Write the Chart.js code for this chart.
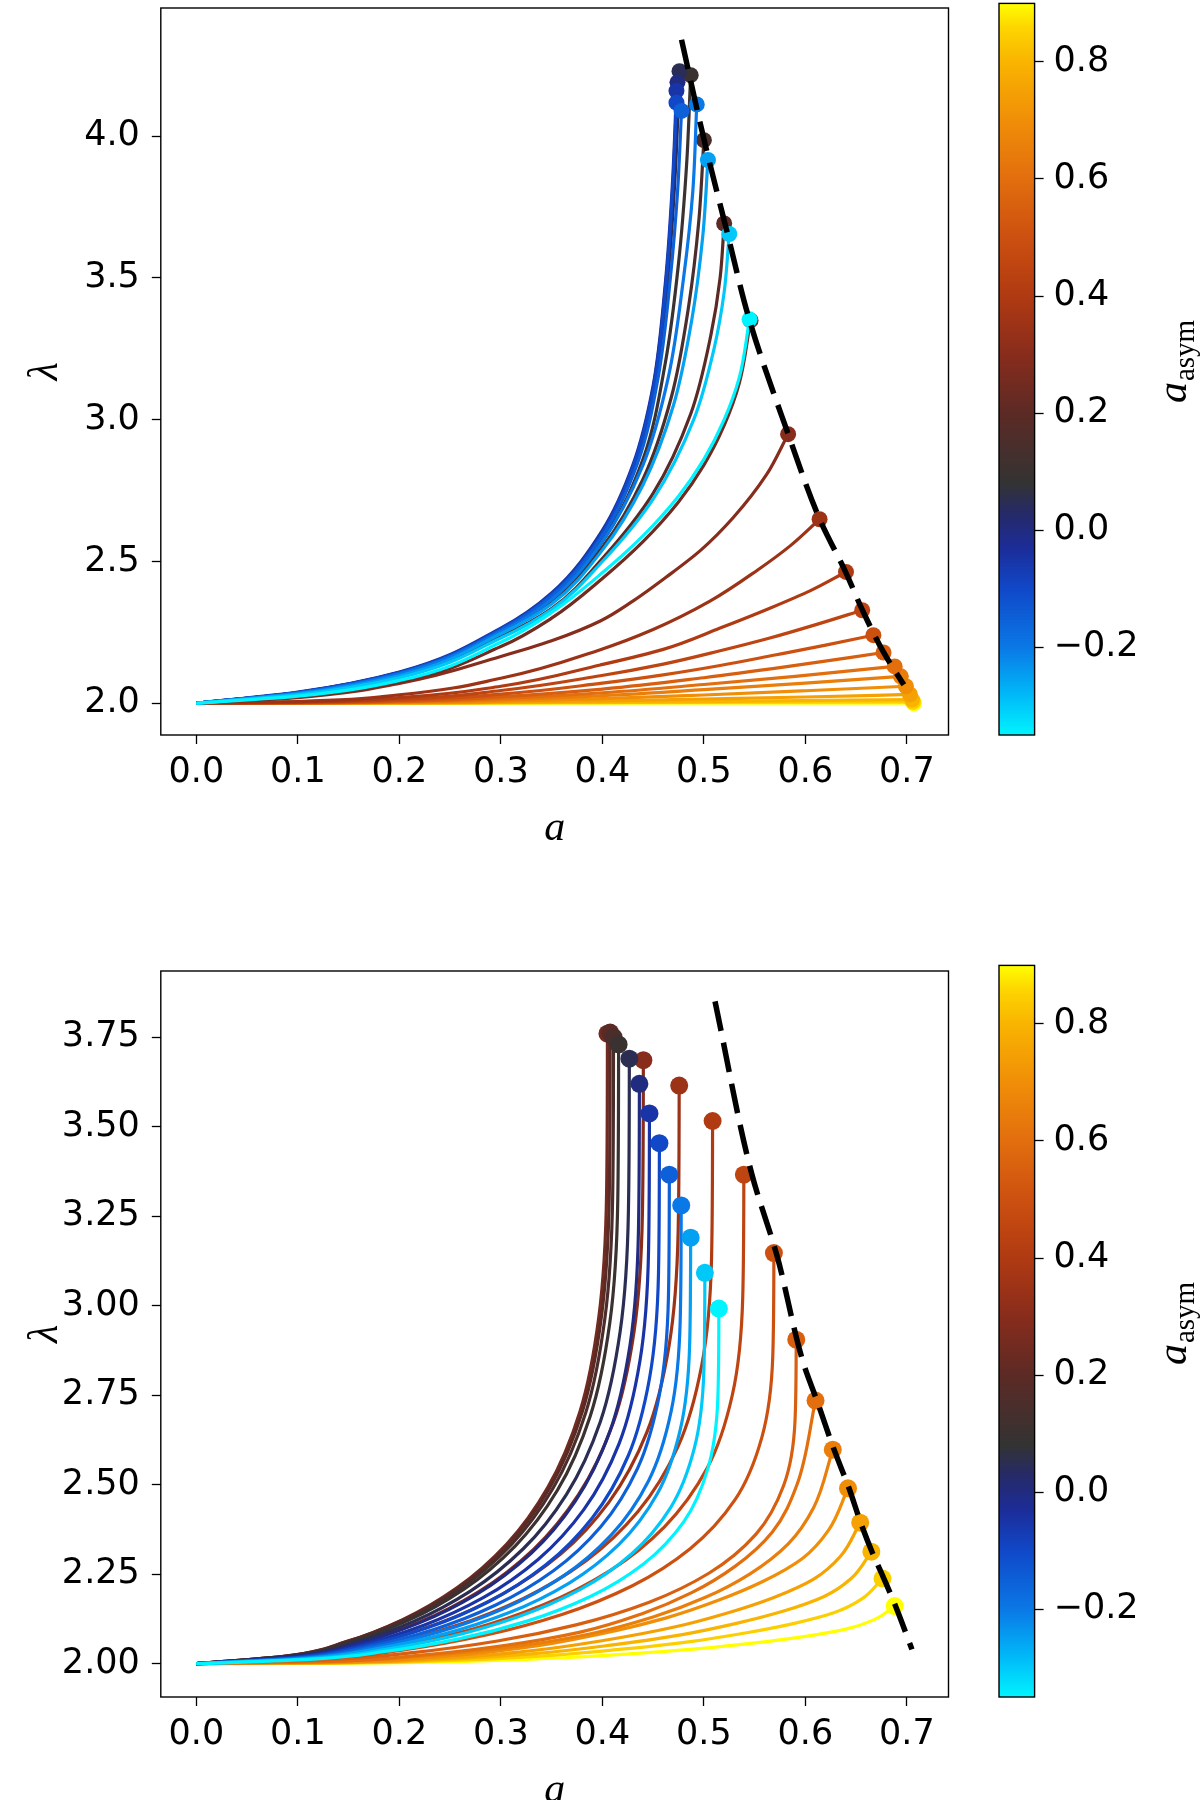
<!DOCTYPE html>
<html>
<head>
<meta charset="utf-8">
<script src="https://cdn.jsdelivr.net/npm/chart.js@4.4.1/dist/chart.umd.min.js"></script>
<style>
  html, body { margin: 0; padding: 0; background: #fff; overflow: hidden; width: 1200px; height: 1800px; }
  .box { position: absolute; }
</style>
</head>
<body>
<div class="box" style="left:0;top:0;width:960px;height:850px"><canvas id="topChart"></canvas></div>
<div class="box" style="left:990px;top:0;width:210px;height:850px"><canvas id="topBar"></canvas></div>
<div class="box" style="left:0;top:962px;width:960px;height:850px"><canvas id="bottomChart"></canvas></div>
<div class="box" style="left:990px;top:962px;width:210px;height:850px"><canvas id="bottomBar"></canvas></div>
<script>
// tick labels
const xTicks = [0, 0.1, 0.2, 0.3, 0.4, 0.5, 0.6, 0.7];
const topYTicks = [2.0, 2.5, 3.0, 3.5, 4.0];
const bottomYTicks = [2.0, 2.25, 2.5, 2.75, 3.0, 3.25, 3.5, 3.75];
const cbarTicks = [-0.2, 0.0, 0.2, 0.4, 0.6, 0.8];
const cbarMin = -0.35, cbarMax = 0.9;

// colour map of a_asym
const cmapStops = [-0.35, -0.28, -0.2, -0.1, -0.03, 0.03, 0.08, 0.2, 0.3, 0.4, 0.5, 0.6, 0.7, 0.8, 0.86, 0.9];
const cmapColors = ['#00f4ff', '#00b8f8', '#0a78e6', '#1048c8', '#1c2c98', '#262a66', '#333333', '#5c2a25',
                    '#882c1c', '#b03a12', '#cc5010', '#e26e0e', '#f08e08', '#f9b400', '#fdd600', '#ffff00'];

// top panel: a_asym of each curve, curve points [a, lambda]
const topAsym = [-0.35, -0.3, -0.25, -0.2, -0.15, -0.1, -0.05, 0.0, 0.05, 0.1, 0.15, 0.2, 0.25,
                 0.3, 0.35, 0.4, 0.45, 0.5, 0.55, 0.6, 0.65, 0.7, 0.75, 0.8, 0.85, 0.9];
const topCurves = [
  [[0,2],[0.1,2.025],[0.2,2.08],[0.3,2.215],[0.35,2.32],[0.4,2.46],[0.44,2.59],[0.475,2.73],[0.5,2.86],[0.52,3.0],[0.535,3.15],[0.545,3.354]],
  [[0,2],[0.1,2.03],[0.2,2.09],[0.3,2.23],[0.35,2.33],[0.4,2.5],[0.45,2.72],[0.49,3.0],[0.51,3.25],[0.52,3.45],[0.525,3.655]],
  [[0,2],[0.1,2.033],[0.2,2.097],[0.3,2.245],[0.35,2.35],[0.4,2.54],[0.44,2.77],[0.47,3.05],[0.488,3.35],[0.499,3.65],[0.504,3.916]],
  [[0,2],[0.1,2.035],[0.2,2.103],[0.3,2.252],[0.35,2.366],[0.4,2.57],[0.44,2.84],[0.465,3.15],[0.48,3.5],[0.489,3.8],[0.493,4.112]],
  [[0,2],[0.1,2.037],[0.2,2.106],[0.3,2.258],[0.35,2.378],[0.4,2.59],[0.435,2.85],[0.455,3.15],[0.467,3.5],[0.474,3.8],[0.478,4.089]],
  [[0,2],[0.1,2.038],[0.2,2.108],[0.3,2.262],[0.35,2.384],[0.4,2.6],[0.43,2.83],[0.45,3.1],[0.462,3.45],[0.469,3.8],[0.473,4.118]],
  [[0,2],[0.1,2.039],[0.2,2.11],[0.3,2.265],[0.35,2.389],[0.4,2.61],[0.43,2.84],[0.45,3.12],[0.462,3.48],[0.469,3.83],[0.473,4.16]],
  [[0,2],[0.1,2.038],[0.2,2.108],[0.3,2.26],[0.35,2.381],[0.4,2.595],[0.43,2.83],[0.45,3.11],[0.463,3.5],[0.47,3.85],[0.474,4.19]],
  [[0,2],[0.1,2.037],[0.2,2.106],[0.3,2.256],[0.35,2.374],[0.4,2.585],[0.432,2.83],[0.452,3.12],[0.465,3.52],[0.472,3.88],[0.476,4.229]],
  [[0,2],[0.1,2.035],[0.2,2.103],[0.3,2.25],[0.35,2.365],[0.4,2.57],[0.44,2.86],[0.462,3.2],[0.475,3.55],[0.483,3.9],[0.487,4.215]],
  [[0,2],[0.1,2.034],[0.2,2.1],[0.3,2.25],[0.35,2.358],[0.4,2.55],[0.44,2.79],[0.468,3.08],[0.485,3.4],[0.495,3.7],[0.5,3.986]],
  [[0,2],[0.1,2.03],[0.2,2.092],[0.3,2.235],[0.35,2.334],[0.4,2.51],[0.45,2.74],[0.487,3.02],[0.507,3.3],[0.516,3.5],[0.52,3.692]],
  [[0,2],[0.1,2.022],[0.2,2.075],[0.3,2.2],[0.35,2.3],[0.4,2.44],[0.44,2.57],[0.475,2.71],[0.5,2.84],[0.52,2.98],[0.535,3.13],[0.546,3.35]],
  [[0,2],[0.1,2.02],[0.2,2.07],[0.3,2.165],[0.35,2.22],[0.398,2.29],[0.43,2.36],[0.463,2.445],[0.497,2.54],[0.529,2.655],[0.5617,2.806],[0.583,2.949]],
  [[0,2],[0.1,2.006],[0.2,2.03],[0.3,2.088],[0.398,2.189],[0.45,2.26],[0.506,2.36],[0.553,2.47],[0.585,2.555],[0.614,2.649]],
  [[0,2],[0.1,2.004],[0.2,2.02],[0.3,2.06],[0.398,2.135],[0.46,2.19],[0.516,2.265],[0.565,2.335],[0.605,2.397],[0.64,2.463]],
  [[0,2],[0.1,2.003],[0.2,2.014],[0.3,2.045],[0.398,2.097],[0.46,2.138],[0.516,2.185],[0.565,2.23],[0.612,2.279],[0.656,2.328]],
  [[0,2],[0.1,2.002],[0.2,2.01],[0.3,2.032],[0.398,2.07],[0.46,2.1],[0.516,2.133],[0.57,2.17],[0.62,2.205],[0.667,2.24]],
  [[0,2],[0.1,2.0015],[0.2,2.007],[0.3,2.023],[0.4,2.05],[0.5,2.09],[0.58,2.128],[0.677,2.179]],
  [[0,2],[0.1,2.001],[0.2,2.005],[0.3,2.017],[0.4,2.037],[0.5,2.066],[0.59,2.095],[0.688,2.13]],
  [[0,2],[0.1,2.001],[0.2,2.004],[0.3,2.012],[0.4,2.027],[0.5,2.048],[0.6,2.071],[0.694,2.095]],
  [[0,2],[0.2,2.002],[0.3,2.007],[0.4,2.016],[0.5,2.029],[0.6,2.044],[0.699,2.06]],
  [[0,2],[0.2,2.001],[0.3,2.004],[0.4,2.008],[0.5,2.015],[0.6,2.022],[0.703,2.031]],
  [[0,2],[0.3,2.002],[0.5,2.006],[0.705,2.013]],
  [[0,2],[0.4,2.002],[0.706,2.005]],
  [[0,2],[0.707,2.0]]
];
const topDashA = [0.478, 0.5, 0.523, 0.545, 0.583, 0.614, 0.64, 0.656, 0.677, 0.697];
const topDashL = [4.34, 3.99, 3.66, 3.35, 2.95, 2.65, 2.46, 2.33, 2.18, 2.065];

// bottom panel
const bottomAsym = topAsym.slice();
const bottomCurves = [
  [[0,2],[0.1117,2.0119],[0.1876,2.0347],[0.2584,2.0694],[0.3259,2.119],[0.3887,2.1885],[0.4402,2.2778],[0.4803,2.3968],[0.504,2.5456],[0.5138,2.744],[0.5148,2.992]],
  [[0,2],[0.1087,2.0131],[0.1826,2.0382],[0.2515,2.0764],[0.3171,2.131],[0.3783,2.2075],[0.4284,2.3058],[0.4674,2.4368],[0.4905,2.6006],[0.5,2.819],[0.501,3.092]],
  [[0,2],[0.1057,2.0143],[0.1775,2.0417],[0.2445,2.0833],[0.3083,2.1428],[0.3677,2.2261],[0.4164,2.3332],[0.4544,2.476],[0.4768,2.6545],[0.486,2.8925],[0.487,3.19]],
  [[0,2],[0.1037,2.0154],[0.1741,2.0448],[0.2398,2.0896],[0.3024,2.1536],[0.3607,2.2432],[0.4084,2.3584],[0.4457,2.512],[0.4677,2.704],[0.4767,2.96],[0.4777,3.28]],
  [[0,2],[0.1011,2.0164],[0.1699,2.0478],[0.2339,2.0956],[0.295,2.1639],[0.3518,2.2595],[0.3984,2.3825],[0.4348,2.5464],[0.4562,2.7513],[0.4651,3.0245],[0.466,3.366]],
  [[0,2],[0.099,2.0174],[0.1663,2.0509],[0.229,2.1018],[0.2888,2.1745],[0.3444,2.2763],[0.39,2.4071],[0.4256,2.5816],[0.4466,2.7997],[0.4553,3.0905],[0.4562,3.454]],
  [[0,2],[0.0969,2.0184],[0.1627,2.0538],[0.2241,2.1076],[0.2826,2.1844],[0.337,2.292],[0.3817,2.4304],[0.4165,2.6148],[0.437,2.8454],[0.4455,3.1528],[0.4464,3.537]],
  [[0,2],[0.0947,2.0194],[0.1591,2.0567],[0.2191,2.1134],[0.2763,2.1944],[0.3296,2.3078],[0.3732,2.4536],[0.4073,2.648],[0.4273,2.891],[0.4356,3.215],[0.4365,3.62]],
  [[0,2],[0.0926,2.0203],[0.1555,2.0592],[0.2142,2.1183],[0.27,2.2028],[0.3221,2.3211],[0.3647,2.4732],[0.398,2.676],[0.4176,2.9295],[0.4257,3.2675],[0.4266,3.69]],
  [[0,2],[0.0903,2.0208],[0.1516,2.0606],[0.2088,2.1211],[0.2633,2.2076],[0.3141,2.3287],[0.3557,2.4844],[0.3881,2.692],[0.4073,2.9515],[0.4152,3.2975],[0.416,3.73]],
  [[0,2],[0.0892,2.021],[0.1498,2.0613],[0.2063,2.1225],[0.2602,2.21],[0.3103,2.3325],[0.3514,2.49],[0.3835,2.7],[0.4024,2.9625],[0.4102,3.3125],[0.411,3.75]],
  [[0,2],[0.0885,2.0212],[0.1486,2.0617],[0.2047,2.1234],[0.2581,2.2116],[0.3078,2.335],[0.3486,2.4936],[0.3804,2.7052],[0.3991,2.9697],[0.4069,3.3223],[0.4077,3.763]],
  [[0,2],[0.0879,2.0211],[0.1476,2.0616],[0.2033,2.1232],[0.2564,2.2112],[0.3058,2.3344],[0.3463,2.4928],[0.3779,2.704],[0.3965,2.968],[0.4042,3.32],[0.405,3.76]],
  [[0,2],[0.0956,2.0202],[0.1605,2.059],[0.2211,2.118],[0.2788,2.2023],[0.3325,2.3203],[0.3765,2.4721],[0.4109,2.6744],[0.4312,2.9273],[0.4395,3.2645],[0.4404,3.686]],
  [[0,2],[0.1032,2.0194],[0.1734,2.0565],[0.2388,2.1131],[0.3011,2.1938],[0.3592,2.3069],[0.4067,2.4522],[0.4438,2.646],[0.4657,2.8883],[0.4747,3.2113],[0.4757,3.615]],
  [[0,2],[0.1104,2.0182],[0.1854,2.0531],[0.2553,2.1061],[0.3219,2.1819],[0.384,2.288],[0.4349,2.4245],[0.4745,2.6064],[0.4979,2.8338],[0.5076,3.137],[0.5086,3.516]],
  [[0,2],[0.1171,2.0164],[0.1966,2.0478],[0.2708,2.0956],[0.3414,2.1639],[0.4072,2.2595],[0.4612,2.3825],[0.5033,2.5464],[0.5281,2.7513],[0.5383,3.0245],[0.5394,3.366]],
  [[0,2],[0.1235,2.0138],[0.2074,2.0401],[0.2856,2.0803],[0.3602,2.1376],[0.4296,2.2179],[0.4865,2.3212],[0.5309,2.4588],[0.557,2.6309],[0.5679,2.8603],[0.569,3.147]],
  [[0,2],[0.1282,2.0109],[0.2154,2.0317],[0.2967,2.0634],[0.3741,2.1086],[0.4462,2.172],[0.5053,2.2534],[0.5514,2.362],[0.5786,2.4978],[0.5898,2.6788],[0.591,2.905]],
  [[0,2],[0.122,2.0059],[0.2135,2.0221],[0.305,2.0515],[0.3782,2.0882],[0.4392,2.1397],[0.488,2.1985],[0.5307,2.272],[0.5673,2.3675],[0.5917,2.4998],[0.61,2.735]],
  [[0,2],[0.1254,2.006],[0.2195,2.0209],[0.3135,2.0478],[0.3887,2.0837],[0.4514,2.1316],[0.5016,2.1854],[0.5455,2.2512],[0.5831,2.3349],[0.6082,2.4365],[0.627,2.598]],
  [[0,2],[0.1284,2.0039],[0.2247,2.0162],[0.321,2.0441],[0.398,2.0833],[0.4622,2.1274],[0.5136,2.1764],[0.5585,2.2303],[0.5971,2.294],[0.6227,2.3724],[0.642,2.49]],
  [[0,2],[0.1308,2.0032],[0.2289,2.013],[0.327,2.0355],[0.4055,2.067],[0.4709,2.1024],[0.5232,2.1418],[0.569,2.1852],[0.6082,2.2364],[0.6344,2.2994],[0.654,2.394]],
  [[0,2],[0.133,2.0025],[0.2328,2.0103],[0.3325,2.0282],[0.4123,2.0532],[0.4788,2.0814],[0.532,2.1127],[0.5786,2.1471],[0.6185,2.1878],[0.6451,2.2379],[0.665,2.313]],
  [[0,2],[0.1352,2.0019],[0.2366,2.0079],[0.338,2.0214],[0.4191,2.0405],[0.4867,2.0619],[0.5408,2.0857],[0.5881,2.1119],[0.6287,2.1428],[0.6557,2.1809],[0.676,2.238]],
  [[0,2],[0.1376,2.0013],[0.2408,2.0053],[0.344,2.0145],[0.4266,2.0274],[0.4954,2.0419],[0.5504,2.058],[0.5986,2.0757],[0.6398,2.0966],[0.6674,2.1224],[0.688,2.161]]
];
const bottomDashA = [0.511, 0.547, 0.572, 0.598, 0.612, 0.628, 0.643, 0.655, 0.666, 0.677, 0.689, 0.705];
const bottomDashL = [3.85, 3.37, 3.14, 2.84, 2.73, 2.6, 2.49, 2.39, 2.31, 2.24, 2.16, 2.04];

const tickFont = { family: 'DejaVu Sans', size: 35 };
const mathFont = 'Liberation Serif';

function hexRgb(h) {
  return [1, 3, 5].map(i => parseInt(h.slice(i, i + 2), 16));
}
function cmap(v) {
  if (v <= cmapStops[0]) return cmapColors[0];
  for (let i = 1; i < cmapStops.length; i++) {
    if (v <= cmapStops[i]) {
      const t = (v - cmapStops[i - 1]) / (cmapStops[i] - cmapStops[i - 1]);
      const c0 = hexRgb(cmapColors[i - 1]), c1 = hexRgb(cmapColors[i]);
      const c = c0.map((x, k) => Math.round(x + (c1[k] - x) * t));
      return `rgb(${c[0]},${c[1]},${c[2]})`;
    }
  }
  return cmapColors[cmapColors.length - 1];
}

// black box round the plot area
const frame = {
  id: 'frame',
  afterDatasetsDraw(chart) {
    const { ctx, chartArea: a } = chart;
    ctx.save();
    ctx.strokeStyle = '#000';
    ctx.lineWidth = 1.4;
    ctx.strokeRect(a.left, a.top, a.right - a.left, a.bottom - a.top);
    ctx.restore();
  }
};

// colorbar label a_asym (subscript)
const cbarLabel = {
  id: 'cbarLabel',
  afterDraw(chart) {
    const c = chart.ctx;
    c.save();
    c.translate(187, 362);
    c.rotate(-Math.PI / 2);
    c.fillStyle = '#000';
    c.textBaseline = 'alphabetic';
    c.font = `italic 42px "${mathFont}"`;
    const wa = c.measureText('a').width;
    c.font = `29px "${mathFont}"`;
    const ws = c.measureText('asym').width;
    const x0 = -(wa + ws) / 2;
    c.font = `italic 42px "${mathFont}"`;
    c.fillText('a', x0, 9);
    c.font = `29px "${mathFont}"`;
    c.fillText('asym', x0 + wa + 1, 17);
    c.restore();
  }
};

function tickGrid() {
  return { drawOnChartArea: false, drawTicks: true, tickLength: 9, tickWidth: 1.3, tickColor: '#000' };
}

// keep chart.js from reserving room for half tick labels
function noPadX(ax, h) { ax.height = h; ax.paddingLeft = 0; ax.paddingRight = 0; }
function noPadY(ax, w) { ax.width = w; ax.paddingTop = 0; ax.paddingBottom = 0; }

// curves are smoothed along lambda, which grows steadily along every curve
function curveSets(curves, asym, dot) {
  return curves.map((pts, i) => {
    const color = cmap(asym[i]);
    return {
      data: pts.map(p => ({ x: p[0], y: p[1] })),
      indexAxis: 'y',
      showLine: true,
      borderColor: color,
      backgroundColor: color,
      borderWidth: 3.2,
      pointRadius: ctx => ctx.dataIndex === pts.length - 1 ? dot : 0,
      pointBorderWidth: 0,
      cubicInterpolationMode: 'monotone',
      order: i + 1
    };
  });
}

function dashSet(as, ls) {
  return {
    data: as.map((a, i) => ({ x: a, y: ls[i] })),
    indexAxis: 'y',
    showLine: true,
    borderColor: '#000',
    borderWidth: 5.5,
    borderDash: [30, 12],
    pointRadius: 0,
    cubicInterpolationMode: 'monotone',
    order: 0
  };
}

function makePlot(id, curves, asym, dashA, dashL, yTicks, yMin, yMax, digits, dot) {
  new Chart(document.getElementById(id), {
    type: 'scatter',
    data: { datasets: [...curveSets(curves, asym, dot), dashSet(dashA, dashL)] },
    options: {
      animation: false,
      responsive: true,
      maintainAspectRatio: false,
      events: [],
      layout: { padding: { top: 3.4, right: 11.5, left: 0, bottom: 0 } },
      plugins: { legend: { display: false }, tooltip: { enabled: false } },
      scales: {
        x: {
          type: 'linear', min: -0.035, max: 0.741,
          afterBuildTicks: ax => { ax.ticks = xTicks.map(v => ({ value: v })); },
          afterFit: ax => noPadX(ax, 115),
          ticks: { autoSkip: false, maxRotation: 0, padding: 8, color: '#000', font: tickFont,
                   callback: v => v.toFixed(1) },
          grid: tickGrid(),
          border: { display: false },
          title: { display: true, text: 'a', color: '#000',
                   font: { family: mathFont, size: 42, style: 'italic', lineHeight: 1.0 }, padding: { top: 0, bottom: 0 } }
        },
        y: {
          type: 'linear', min: yMin, max: yMax,
          afterBuildTicks: ax => { ax.ticks = yTicks.map(v => ({ value: v })); },
          afterFit: ax => noPadY(ax, 160.8),
          ticks: { autoSkip: false, padding: 12, color: '#000', font: tickFont,
                   callback: v => v.toFixed(digits) },
          grid: tickGrid(),
          border: { display: false },
          title: { display: true, text: 'λ', color: '#000',
                   font: { family: mathFont, size: 42, style: 'italic', lineHeight: 1.0 }, padding: { top: 25, bottom: 0 } }
        }
      }
    },
    plugins: [frame]
  });
}

function makeBar(id) {
  new Chart(document.getElementById(id), {
    type: 'bar',
    data: {
      labels: [''],
      datasets: [{
        data: [[cbarMin, cbarMax]],
        barPercentage: 1,
        categoryPercentage: 1,
        borderWidth: 0,
        backgroundColor: ctx => {
          const chart = ctx.chart;
          if (!chart.chartArea) return cmap(0);
          const ys = chart.scales.y;
          const g = chart.ctx.createLinearGradient(0, ys.getPixelForValue(cbarMin), 0, ys.getPixelForValue(cbarMax));
          cmapStops.forEach((v, i) => g.addColorStop((v - cbarMin) / (cbarMax - cbarMin), cmapColors[i]));
          return g;
        }
      }]
    },
    options: {
      animation: false,
      responsive: true,
      maintainAspectRatio: false,
      events: [],
      layout: { padding: { left: 9, top: 3.4, bottom: 115, right: 0 } },
      plugins: { legend: { display: false }, tooltip: { enabled: false } },
      scales: {
        x: { display: false },
        y: {
          position: 'right', min: cbarMin, max: cbarMax,
          afterBuildTicks: ax => { ax.ticks = cbarTicks.map(v => ({ value: v })); },
          afterFit: ax => noPadY(ax, 165.4),
          ticks: { autoSkip: false, padding: 10, color: '#000', font: tickFont,
                   callback: v => (v < -1e-9 ? '\u2212' : '') + Math.abs(v).toFixed(1) },
          grid: tickGrid(),
          border: { display: false }
        }
      }
    },
    plugins: [frame, cbarLabel]
  });
}

makePlot('topChart', topCurves, topAsym, topDashA, topDashL, topYTicks, 1.888, 4.452, 1, 8);
makeBar('topBar');
makePlot('bottomChart', bottomCurves, bottomAsym, bottomDashA, bottomDashL, bottomYTicks, 1.907, 3.935, 2, 9);
makeBar('bottomBar');
</script>
</body>
</html>
